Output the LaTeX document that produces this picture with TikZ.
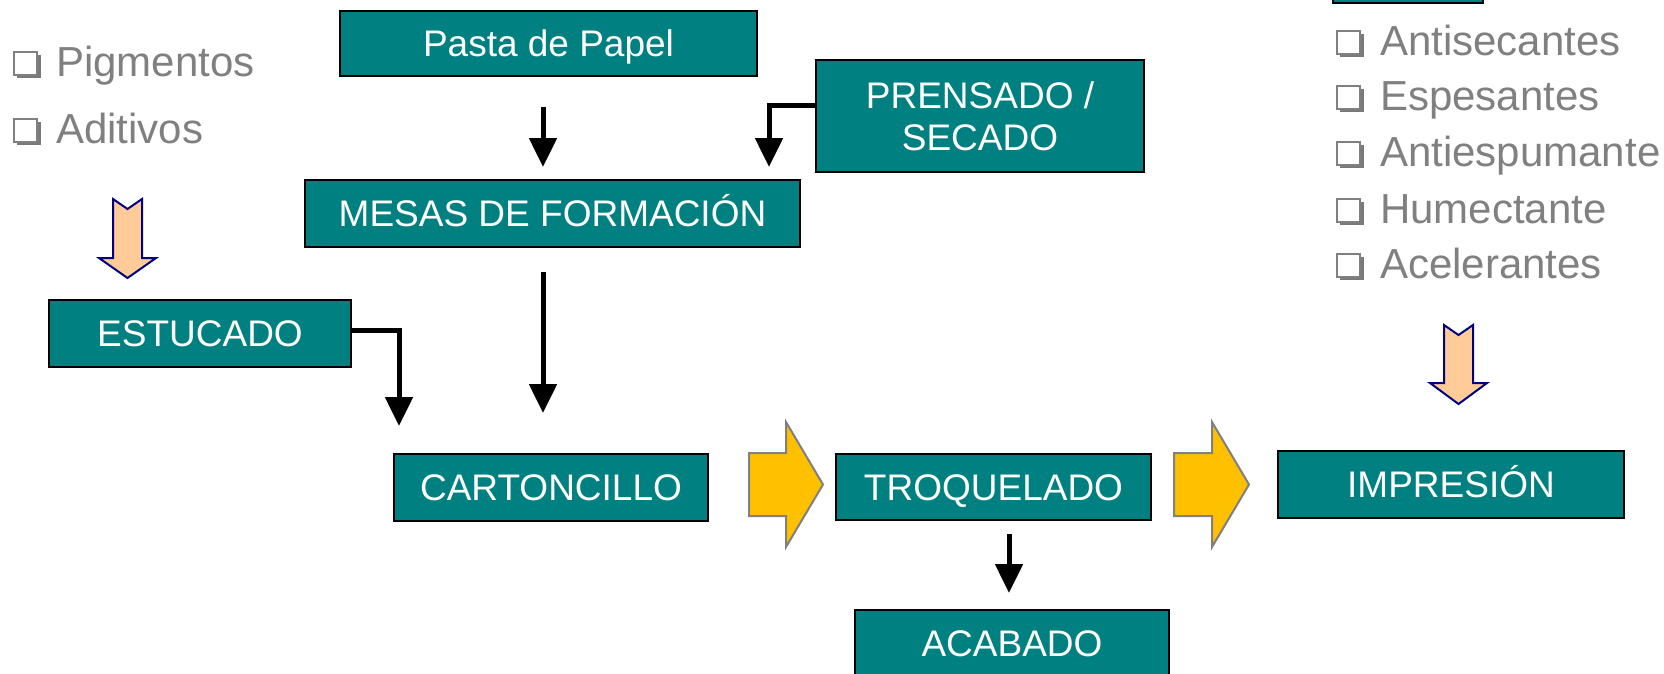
\documentclass[tikz,border=0pt]{standalone}
\usepackage{fontspec}
\setmainfont{Liberation Sans}
\usetikzlibrary{arrows.meta,calc}
\definecolor{boxteal}{HTML}{008080}
\definecolor{listgray}{HTML}{808080}
\definecolor{shadowgray}{HTML}{7A7A7A}
\definecolor{blockyellow}{HTML}{FFC000}
\definecolor{blockgray}{HTML}{808080}
\definecolor{peach}{HTML}{FFCC99}
\definecolor{navyline}{HTML}{000080}
\begin{document}
\begin{tikzpicture}[x=1pt,y=-1pt,
  procbox/.style={draw=black, line width=2pt, fill=boxteal, text=white, inner sep=0pt,
    font=\fontsize{37}{42}\selectfont, align=center},
  onerow/.style={procbox, text height=26.5pt, text depth=0pt},
  listtext/.style={anchor=base west, inner sep=0pt, text=listgray, font=\fontsize{42}{50}\selectfont},
  blk/.style={line width=5pt, -{Triangle[width=27pt,length=29pt]}},
  yarrow/.style={fill=blockyellow, draw=blockgray, line width=2pt, line join=miter},
  parrow/.style={fill=peach, draw=navyline, line width=2pt, line join=miter}]
\useasboundingbox (0,0) rectangle (1664,673);
\fill[white] (0,0) rectangle (1664,673);

% boxes
\node[onerow, minimum width=417pt, minimum height=65pt] (pasta) at (548.5,43.5) {Pasta de Papel};
\node[procbox, minimum width=328pt, minimum height=112pt] (prensado) at (980,116) {PRENSADO /\\SECADO};
\node[onerow, minimum width=495pt, minimum height=67pt] (mesas) at (552.5,213.5) {MESAS DE FORMACIÓN};
\node[onerow, minimum width=302pt, minimum height=67pt] (estucado) at (200,333.5) {ESTUCADO};
\node[onerow, minimum width=314pt, minimum height=67pt] (carton) at (551,487.5) {CARTONCILLO};
\node[onerow, minimum width=315pt, minimum height=66pt] (troq) at (993.5,487) {TROQUELADO};
\node[onerow, minimum width=346pt, minimum height=67pt] (impr) at (1451,484.5) {IMPRESIÓN};
\node[onerow, minimum width=314pt, minimum height=66pt] (acab) at (1012,643) {ACABADO};
\node[procbox, minimum width=150pt, minimum height=16pt] (topbox) at (1408,-5) {};

% black connectors
\draw[blk] ([xshift=-5.5pt,yshift=-30pt]pasta.south) -- ([xshift=-9.5pt,yshift=12pt]mesas.north);
\draw[blk] ([yshift=11pt]prensado.west) -| ([xshift=-32pt,yshift=12pt]mesas.north east);
\draw[blk] ([xshift=-9.5pt,yshift=-24pt]mesas.south) -- ([xshift=-8pt,yshift=40pt]carton.north);
\draw[blk] ([yshift=3.5pt]estucado.east) -| ([xshift=6pt,yshift=27pt]carton.north west);
\draw[blk] ([xshift=15.5pt,yshift=-13pt]troq.south) -- ([xshift=-3pt,yshift=16pt]acab.north);

% yellow block arrows
\draw[yarrow] (749,453) -- (786,453) -- (786,422) -- (823,484.5) -- (786,547) -- (786,516) -- (749,516) -- cycle;
\draw[yarrow] (1174,453) -- (1212,453) -- (1212,422) -- (1249,484.5) -- (1212,547) -- (1212,516) -- (1174,516) -- cycle;

% peach down arrows
\draw[parrow] (113,199) -- (127.5,209) -- (142,199) -- (142,258) -- (156,258) -- (127.5,278) -- (99,258) -- (113,258) -- cycle;
\draw[parrow] (1444,325) -- (1458.5,335) -- (1473,325) -- (1473,383) -- (1487,383) -- (1458.5,404) -- (1430,383) -- (1444,383) -- cycle;

% lists
\foreach \name/\tx/\bx/\by in {Pigmentos/56/14/76, Aditivos/56/14/143,
   Antisecantes/1380/1337/55, Espesantes/1380/1337/110, Antiespumante/1380/1337/166,
   Humectante/1380/1337/223, Acelerantes/1380/1337/278}{
  \fill[shadowgray] (\bx+3,\by-21) rectangle (\bx+27,\by+2);
  \draw[listgray, fill=white, line width=1.5pt] (\bx,\by-24) rectangle (\bx+23,\by-1);
  \node[listtext] (l\name) at (\tx,\by) {\name};
}
\end{tikzpicture}
\end{document}
